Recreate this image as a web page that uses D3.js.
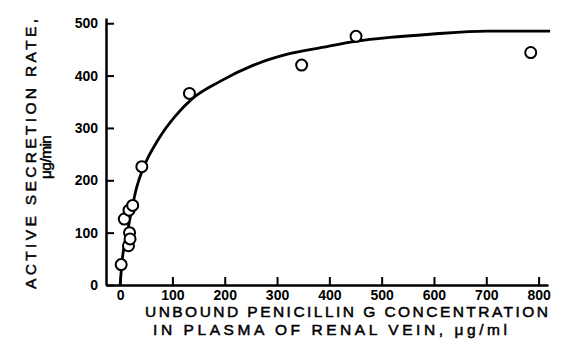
<!DOCTYPE html>
<html>
<head>
<meta charset="utf-8">
<script src="https://cdn.jsdelivr.net/npm/d3@7"></script>
<style>
  body { margin: 0; background: #fff; }
  svg { display: block; font-family: "Liberation Sans", Arial, sans-serif; }
</style>
</head>
<body>
<div id="chart"></div>
<script>
// observed points (unbound conc, secretion rate)
const concentration = [2, 8, 17, 24, 16, 18, 19, 41.5, 132.5, 347, 451, 785];
const secretionRate = [39, 126, 143, 152, 75, 100, 88, 226, 366, 420, 475, 444];

// fitted curve
const curveConc = [0, 3, 16, 32, 45, 73, 105, 138, 191, 255, 320, 382, 453, 516, 593, 700, 822];
const curveRate = [0, 38, 112, 188, 225, 278, 322, 356, 389, 420, 441, 453, 466, 473, 479, 485, 485];

const xTicks = [0, 100, 200, 300, 400, 500, 600, 700, 800];
const yTicks = [0, 100, 200, 300, 400, 500];

const W = 561, H = 351;

const svg = d3
  .select("#chart")
  .append("svg")
  .attr("width", W)
  .attr("height", H);

const x = d3.scaleLinear().domain([-27, 818]).range([106, 548]);
const y = d3.scaleLinear().domain([0, 510]).range([285, 18]);

// x axis
const xAxis = svg
  .append("g")
  .attr("transform", "translate(0,285)")
  .call(d3.axisBottom(x).tickValues(xTicks).tickSize(-8).tickSizeOuter(0).tickPadding(5));

// y axis
const yAxis = svg
  .append("g")
  .attr("transform", "translate(106,0)")
  .call(d3.axisLeft(y).tickValues(yTicks).tickSize(-8).tickSizeOuter(0).tickPadding(8));

[xAxis, yAxis].forEach((g) => {
  g.attr("font-size", 14).attr("font-weight", "bold").attr("font-family", "'Liberation Sans', Arial, sans-serif");
  g.select(".domain").attr("stroke", "#000").attr("stroke-width", 2.5);
  g.selectAll(".tick line").attr("stroke", "#000").attr("stroke-width", 2);
  g.selectAll(".tick text").attr("fill", "#000");
});

// fitted curve
const line = d3
  .line()
  .x((d, i) => x(curveConc[i]))
  .y((d, i) => y(curveRate[i]))
  .curve(d3.curveMonotoneX);

svg
  .append("path")
  .datum(curveConc)
  .attr("d", line)
  .attr("fill", "none")
  .attr("stroke", "#000")
  .attr("stroke-width", 2.8);

// data points
svg
  .selectAll("circle.pt")
  .data(concentration)
  .join("circle")
  .attr("class", "pt")
  .attr("cx", (d) => x(d))
  .attr("cy", (d, i) => y(secretionRate[i]))
  .attr("r", 5.5)
  .attr("fill", "#fff")
  .attr("stroke", "#000")
  .attr("stroke-width", 2);

// axis titles
function title(txt, tx, ty, len, rot) {
  svg
    .append("text")
    .attr("transform", `translate(${tx},${ty})` + (rot ? " rotate(-90)" : ""))
    .attr("text-anchor", "middle")
    .attr("textLength", len)
    .attr("lengthAdjust", "spacing")
    .style("font-size", "15.5px")
    .attr("fill", "#000")
    .attr("stroke", "#000")
    .attr("stroke-width", 0.5)
    .text(txt);
}

title("UNBOUND PENICILLIN G CONCENTRATION", 346.5, 317, 403, false);
title("IN PLASMA OF RENAL VEIN, \u03bcg/ml", 330, 334.5, 354, false);
title("ACTIVE SECRETION RATE,", 36, 154, 270, true);
title("\u03bcg/min", 51, 157, 44, true);
</script>
</body>
</html>
